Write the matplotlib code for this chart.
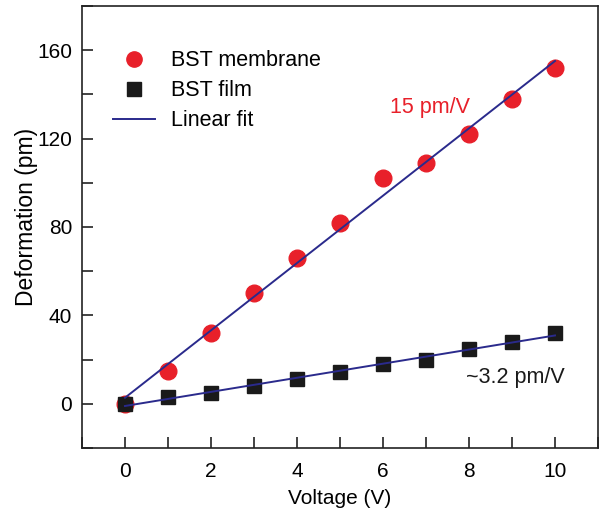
import numpy as np
import matplotlib
matplotlib.use("Agg")
import matplotlib.pyplot as plt
from matplotlib.ticker import MultipleLocator

plt.rcParams['font.family'] = ['Liberation Sans', 'DejaVu Sans']

voltage = [0, 1, 2, 3, 4, 5, 6, 7, 8, 9, 10]
membrane = [0, 15, 32, 50, 66, 82, 102, 109, 122, 138, 152]
film = [0, 3, 5, 8, 11, 14.5, 18, 20, 25, 28, 32]

red = '#e8202a'
blue = '#2a2a8c'
black = '#1a1a1a'
fs = 15

fig = plt.figure(figsize=(6.01, 5.17), dpi=100)
ax = fig.add_axes([0.1364, 0.1335, 0.8586, 0.855])

# linear fits
v = np.array(voltage)
k1, b1 = np.polyfit(v, membrane, 1)
k2, b2 = np.polyfit(v, film, 1)

ax.plot(voltage, film, 's', color=black, markersize=10, label='BST film', zorder=3)
ax.plot(voltage, membrane, 'o', color=red, markersize=12, label='BST membrane', zorder=2)
ax.plot(v, k1 * v + b1, color=blue, lw=1.4, label='Linear fit', zorder=4)
ax.plot(v, k2 * v + b2, color=blue, lw=1.4, zorder=4)

ax.text(6.16, 134, '15 pm/V', color=red, fontsize=15.5, va='center')
ax.text(7.94, 12, '~3.2 pm/V', color=black, fontsize=15.5, va='center')

handles, labels = ax.get_legend_handles_labels()
order = [1, 0, 2]
leg = ax.legend([handles[i] for i in order], [labels[i] for i in order],
                loc='upper left', bbox_to_anchor=(0.06, 0.90), frameon=False,
                borderaxespad=0, borderpad=0,
                fontsize=15.5, handlelength=1.95, handletextpad=0.75, labelspacing=0.42)
leg.legend_handles[0].set_markersize(11)
leg.legend_handles[1].set_markersize(9.5)

ax.set_xlim(-1, 11)
ax.set_ylim(-20, 180)
ax.xaxis.set_major_locator(MultipleLocator(2))
ax.xaxis.set_minor_locator(MultipleLocator(1))
ax.yaxis.set_major_locator(MultipleLocator(40))
ax.yaxis.set_minor_locator(MultipleLocator(20))
ax.tick_params(which='both', direction='in', labelsize=fs, width=1.2, color='#222222')
ax.tick_params(which='both', length=8)
ax.tick_params(axis='x', pad=10)
ax.tick_params(axis='y', pad=7)
for s in ax.spines.values():
    s.set_linewidth(1.2)
    s.set_color('#222222')

ax.set_xlabel('Voltage (V)', fontsize=fs, labelpad=6)
ax.set_ylabel('Deformation (pm)', fontsize=16.5)
ax.yaxis.set_label_coords(-0.085, 0.523)

fig.savefig('out.png', dpi=100)
